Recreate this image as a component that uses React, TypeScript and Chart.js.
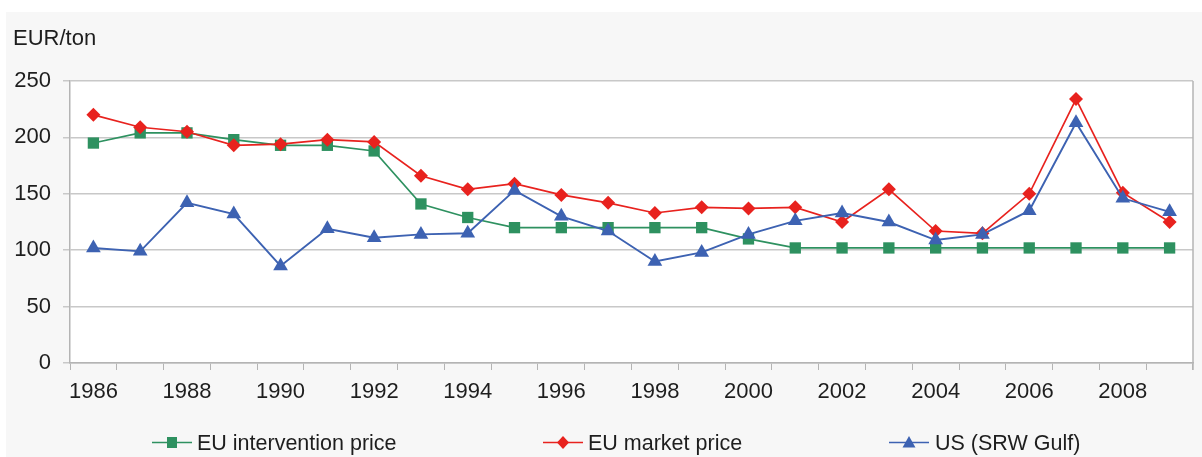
import React, { useEffect, useRef } from "react";
import { Chart, registerables } from "chart.js";

Chart.register(...registerables);

const years = ["1986","1987","1988","1989","1990","1991","1992","1993","1994","1995","1996","1997","1998","1999","2000","2001","2002","2003","2004","2005","2006","2007","2008","2009"];
const interventionPrice = [195,204,204,198,193,193,188,141,129,120,120,120,120,120,110,102,102,102,102,102,102,102,102,102];
const marketPrice = [220,209,205,193,194,198,196,166,154,159,149,142,133,138,137,138,125,154,117,115,150,234,151,125];
const usPrice = [102,99,142,132,86,119,111,114,115,153,130,117,90,98,114,126,133,125,109,114,135,213,146,134];
const yTicks = [0, 50, 100, 150, 200, 250];
const unitLabel = "EUR/ton";
const seriesNames = ["EU intervention price", "EU market price", "US (SRW Gulf)"];

const GREEN = "#2e9160";
const RED = "#e8221e";
const BLUE = "#3d62b2";
const FONT = "'Liberation Sans', Arial, sans-serif";
const TEXT = "#1e1e1e";

const decorPlugin = {
  id: "decor",
  beforeDraw(chart: any) {
    const { ctx, chartArea, width, height } = chart;
    ctx.save();
    ctx.fillStyle = "#ffffff";
    ctx.fillRect(0, 0, width, height);
    ctx.fillStyle = "#f7f7f7";
    ctx.fillRect(6, 12, width - 6, height - 12);
    ctx.fillStyle = "#ffffff";
    ctx.fillRect(chartArea.left, chartArea.top, chartArea.right - chartArea.left, chartArea.bottom - chartArea.top);
    ctx.restore();
  },
  afterDraw(chart: any) {
    const { ctx, chartArea } = chart;
    ctx.save();
    ctx.strokeStyle = "#b4b4b4";
    ctx.lineWidth = 1.5;
    ctx.beginPath();
    ctx.moveTo(chartArea.right, chartArea.top);
    ctx.lineTo(chartArea.right, chartArea.bottom + 7);
    ctx.stroke();
    ctx.fillStyle = TEXT;
    ctx.font = `22px ${FONT}`;
    ctx.textBaseline = "alphabetic";
    ctx.textAlign = "left";
    ctx.fillText(unitLabel, 13, 45);
    const items = [
      { name: seriesNames[0], color: GREEN, shape: "square", x0: 152, x1: 192, textX: 197 },
      { name: seriesNames[1], color: RED, shape: "diamond", x0: 543, x1: 583, textX: 588 },
      { name: seriesNames[2], color: BLUE, shape: "triangle", x0: 889, x1: 929, textX: 935 },
    ];
    const cy = 442.5;
    ctx.font = `21.5px ${FONT}`;
    for (const it of items) {
      ctx.strokeStyle = it.color;
      ctx.lineWidth = 1.5;
      ctx.beginPath();
      ctx.moveTo(it.x0, cy);
      ctx.lineTo(it.x1, cy);
      ctx.stroke();
      const mx = (it.x0 + it.x1) / 2;
      ctx.fillStyle = it.color;
      ctx.beginPath();
      if (it.shape === "square") {
        ctx.rect(mx - 5, cy - 5.5, 10, 11);
      } else if (it.shape === "diamond") {
        ctx.moveTo(mx - 6, cy);
        ctx.lineTo(mx, cy - 6.5);
        ctx.lineTo(mx + 6, cy);
        ctx.lineTo(mx, cy + 6.5);
        ctx.closePath();
      } else {
        ctx.moveTo(mx, cy - 6.5);
        ctx.lineTo(mx + 6.5, cy + 5);
        ctx.lineTo(mx - 6.5, cy + 5);
        ctx.closePath();
      }
      ctx.fill();
      ctx.fillStyle = TEXT;
      ctx.fillText(it.name, it.textX, 449.5);
    }
    ctx.restore();
  },
};

export default function App() {
  const ref = useRef<HTMLCanvasElement | null>(null);
  useEffect(() => {
    if (!ref.current) return;
    const chart = new Chart(ref.current, {
      type: "line",
      data: {
        labels: years,
        datasets: [
          {
            label: seriesNames[0],
            data: interventionPrice,
            borderColor: GREEN,
            backgroundColor: GREEN,
            borderWidth: 1.7,
            pointStyle: "rect",
            pointRadius: 8,
            pointBorderWidth: 0,
            tension: 0,
            order: 3,
          },
          {
            label: seriesNames[1],
            data: marketPrice,
            borderColor: RED,
            backgroundColor: RED,
            borderWidth: 1.7,
            pointStyle: "rectRot",
            pointRadius: 7,
            pointBorderWidth: 0,
            tension: 0,
            order: 2,
          },
          {
            label: seriesNames[2],
            data: usPrice,
            borderColor: BLUE,
            backgroundColor: BLUE,
            borderWidth: 1.9,
            pointStyle: "triangle",
            pointRadius: 8.5,
            pointBorderWidth: 0,
            tension: 0,
            order: 1,
          },
        ],
      },
      options: {
        animation: false,
        responsive: false,
        maintainAspectRatio: false,
        layout: { padding: { left: 0, right: 9, top: 81, bottom: 0 } },
        plugins: {
          legend: { display: false },
          title: { display: false },
          tooltip: { enabled: false },
        },
        scales: {
          x: {
            type: "category",
            offset: true,
            grid: {
              offset: true,
              drawOnChartArea: false,
              drawTicks: true,
              tickLength: 7,
              color: "#b4b4b4",
              lineWidth: 1,
            },
            border: { color: "#b4b4b4", width: 1.5 },
            ticks: {
              autoSkip: false,
              maxRotation: 0,
              minRotation: 0,
              padding: 9,
              color: TEXT,
              font: { family: FONT, size: 22 },
              callback: (_v: any, i: number) => (i % 2 === 0 ? years[i] : ""),
            },
            afterFit: (s: any) => {
              s.height = 457 - 363;
            },
          },
          y: {
            min: yTicks[0],
            max: yTicks[yTicks.length - 1],
            afterBuildTicks: (s: any) => {
              s.ticks = yTicks.map((v) => ({ value: v }));
            },
            grid: {
              color: "#c8c8c8",
              lineWidth: 1.5,
              drawTicks: true,
              tickLength: 7,
            },
            border: { color: "#b4b4b4", width: 1.5 },
            ticks: {
              padding: 12,
              color: TEXT,
              font: { family: FONT, size: 22 },
            },
            afterFit: (s: any) => {
              s.width = 70;
            },
          },
        },
      },
      plugins: [decorPlugin],
    });
    return () => chart.destroy();
  }, []);
  return (
    <div style={{ position: "absolute", left: 0, top: 0, width: 1202, height: 457 }}>
      <canvas ref={ref} width={1202} height={457} style={{ width: 1202, height: 457, display: "block" }} />
    </div>
  );
}
